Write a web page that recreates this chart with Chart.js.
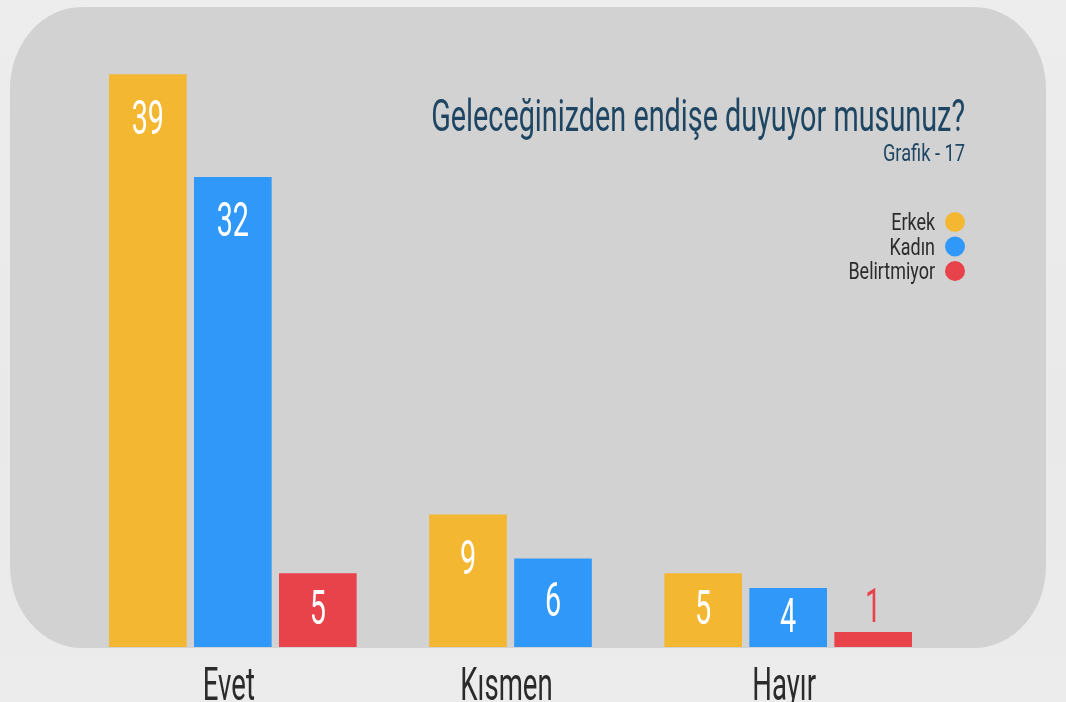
<!DOCTYPE html>
<html>
<head>
<meta charset="utf-8">
<script src="https://cdn.jsdelivr.net/npm/chart.js@4"></script>
<style>
  body { margin: 0; width: 1066px; height: 702px; overflow: hidden;
         background: linear-gradient(180deg, #ededed 0%, #e9e9e9 60%, #ececec 100%); }
  #panel { position: absolute; left: 10px; top: 7px; width: 1036px; height: 641px;
           background: #d2d2d2; border-radius: 72px / 82px; }
  #grafik { position: absolute; left: 0; top: 0; }
</style>
</head>
<body>
<div id="panel"></div>
<canvas id="grafik" width="1066" height="702"></canvas>
<script>
const categories = ['Evet', 'Kısmen', 'Hayır'];
const erkek = [39, 9, 5];
const kadin = [32, 6, 4];
const belirtmiyor = [5, null, 1];
const seriesNames = ['Erkek', 'Kadın', 'Belirtmiyor'];
const seriesColors = ['#f4b731', '#2f98f8', '#e8434b'];
const chartTitle = 'Geleceğinizden endişe duyuyor musunuz?';
const chartSubtitle = 'Grafik - 17';

// dar (condensed) yazı için yatayda sıkıştırarak çiz
function yaz(ctx, text, x, y, size, color, align, sx) {
    ctx.save();
    ctx.font = size + 'px Roboto';
    ctx.fillStyle = color;
    ctx.textAlign = align;
    ctx.textBaseline = 'alphabetic';
    ctx.translate(x, y);
    ctx.scale(sx, 1);
    ctx.fillText(text, 0, 0);
    ctx.restore();
}

const yazilar = {
    id: 'yazilar',
    afterDatasetsDraw(chart) {
        const ctx = chart.ctx;

        // baslik
        yaz(ctx, chartTitle, 965, 131, 45, '#1e4663', 'right', 0.64);
        yaz(ctx, chartSubtitle, 965, 161, 24, '#1e4663', 'right', 0.76);

        // legend
        chart.data.datasets.forEach(function(ds, i) {
            let y = 222 + i * 24.5;
            yaz(ctx, ds.label, 935, y + 8, 23, '#2b2b2b', 'right', 0.78);
            ctx.beginPath();
            ctx.arc(955, y, 10, 0, Math.PI * 2);
            ctx.fillStyle = ds.backgroundColor;
            ctx.fill();
        });

        // degerler
        chart.data.datasets.forEach(function(ds, i) {
            let meta = chart.getDatasetMeta(i);
            meta.data.forEach(function(bar, j) {
                let v = ds.data[j];
                if (v === null || v === undefined) return;
                let h = bar.base - bar.y;
                if (h < 40) {
                    yaz(ctx, String(v), bar.x, bar.y - 10, 48, ds.backgroundColor, 'center', 0.6);
                } else {
                    yaz(ctx, String(v), bar.x, bar.y + Math.min(h * 0.45, 42) + 17, 48, '#ffffff', 'center', 0.6);
                }
            });
        });

        // kategori etiketleri
        let xScale = chart.scales.x;
        categories.forEach(function(c, i) {
            yaz(ctx, c, xScale.getPixelForValue(i) - 4, 700, 46, '#2b2b2b', 'center', 0.6);
        });
    }
};

const grafik = new Chart(document.getElementById('grafik').getContext('2d'), {
    type: 'bar',
    data: {
        labels: categories,
        datasets: [
            { label: seriesNames[0], data: erkek, backgroundColor: seriesColors[0] },
            { label: seriesNames[1], data: kadin, backgroundColor: seriesColors[1] },
            { label: seriesNames[2], data: belirtmiyor, backgroundColor: seriesColors[2] }
        ]
    },
    options: {
        responsive: false,
        animation: false,
        layout: { padding: { left: 94, right: 139, top: 60, bottom: 55 } },
        datasets: {
            bar: { barThickness: 85, maxBarThickness: 77, skipNull: true, borderWidth: 0 }
        },
        scales: {
            x: { display: false },
            y: { display: false, min: 0, max: 40 }
        },
        plugins: {
            legend: { display: false },
            tooltip: { enabled: false }
        }
    },
    plugins: [yazilar]
});
</script>
</body>
</html>
